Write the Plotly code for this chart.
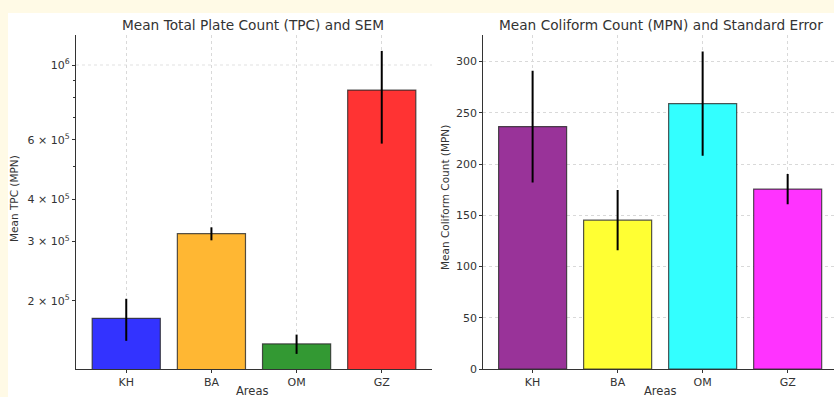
import plotly.graph_objects as go

areas = ["KH", "BA", "OM", "GZ"]
tpc_mean = [177700, 316500, 149200, 843000]
tpc_sem = [25300, 14000, 9800, 258000]
coli_mean = [236.6, 145.3, 259.0, 175.6]
coli_se = [54.6, 29.3, 50.9, 14.8]

tpc_colors = ["#3333FF", "#FFB733", "#339933", "#FF3333"]
coli_colors = ["#993399", "#FFFF33", "#33FFFF", "#FF33FF"]

tpc_tickvals = [2e5, 3e5, 4e5, 6e5, 1e6]
tpc_ticktext = ["2 × 10<sup>5</sup>", "3 × 10<sup>5</sup>", "4 × 10<sup>5</sup>",
                "6 × 10<sup>5</sup>", "10<sup>6</sup>"]
tpc_minor = [5e5, 7e5, 8e5, 9e5]

W, H = 834, 397
TXT = "#333333"
GRID = "#d9d9d9"
FONT = "DejaVu Sans"
CREAM = "#FFFAE6"

fig = go.Figure()
fig.add_trace(go.Bar(
    x=areas, y=tpc_mean, xaxis="x", yaxis="y", width=0.8,
    marker=dict(color=tpc_colors, line=dict(color="rgba(40,40,40,0.8)", width=1.2)),
    error_y=dict(type="data", array=tpc_sem, color="black", thickness=2, width=0),
    showlegend=False))
fig.add_trace(go.Bar(
    x=areas, y=coli_mean, xaxis="x2", yaxis="y2", width=0.8,
    marker=dict(color=coli_colors, line=dict(color="rgba(40,40,40,0.8)", width=1.2)),
    error_y=dict(type="data", array=coli_se, color="black", thickness=2, width=0),
    showlegend=False))

ytop = 1 - 35 / H
ybot = 1 - 369 / H
axis_common = dict(showline=True, linecolor="#333333", linewidth=1.3, ticks="outside",
                   ticklen=3, tickcolor="#333333", tickfont=dict(size=11, color=TXT, family=FONT),
                   zeroline=False, gridcolor=GRID, griddash="dot", gridwidth=0.8,
                   automargin=False)

fig.update_layout(
    width=W, height=H, autosize=False, margin=dict(l=0, r=0, t=0, b=0, pad=0),
    paper_bgcolor=CREAM, plot_bgcolor="white",
    font=dict(family=FONT, color=TXT),
    bargap=0.2,
    xaxis=dict(domain=[76 / W, 432 / W], range=[-0.59, 3.59], anchor="y",
               showgrid=True, **axis_common),
    yaxis=dict(domain=[ybot, ytop], type="log", range=[5.0995, 6.0889], anchor="x",
               tickvals=tpc_tickvals, ticktext=tpc_ticktext, showgrid=False,
               minor=dict(tickvals=tpc_minor, ticks="outside", ticklen=2, tickcolor="#333333",
                          showgrid=False),
               **axis_common),
    xaxis2=dict(domain=[483.3 / W, 1.0], range=[-0.58, 3.545], anchor="y2",
                showgrid=True, **axis_common),
    yaxis2=dict(domain=[ybot, ytop], range=[0, 326], anchor="x2",
                tickvals=[0, 50, 100, 150, 200, 250, 300], showgrid=True, **axis_common),
    shapes=[
        dict(type="rect", xref="paper", yref="paper", x0=8 / W, x1=1, y0=0, y1=1 - 13 / H,
             fillcolor="white", line=dict(width=0), layer="below"),
        dict(type="line", xref="x domain", yref="y", x0=0, x1=1, y0=1e6, y1=1e6,
             line=dict(color=GRID, width=0.8, dash="dot"), layer="below"),
    ],
    annotations=[
        dict(text="Mean Total Plate Count (TPC) and SEM", xref="paper", yref="paper",
             x=253 / W, y=1 - 25 / H, showarrow=False, font=dict(size=13.7, color=TXT),
             xanchor="center", yanchor="middle"),
        dict(text="Mean Coliform Count (MPN) and Standard Error", xref="paper", yref="paper",
             x=660.5 / W, y=1 - 25 / H, showarrow=False, font=dict(size=13.7, color=TXT),
             xanchor="center", yanchor="middle"),
        dict(text="Areas", xref="paper", yref="paper", x=252 / W, y=1 - 391 / H,
             showarrow=False, font=dict(size=11.5, color=TXT), xanchor="center", yanchor="middle"),
        dict(text="Areas", xref="paper", yref="paper", x=660 / W, y=1 - 391 / H,
             showarrow=False, font=dict(size=11.5, color=TXT), xanchor="center", yanchor="middle"),
        dict(text="Mean TPC (MPN)", xref="paper", yref="paper", x=14 / W, y=1 - 199 / H,
             showarrow=False, textangle=-90, font=dict(size=10.5, color=TXT),
             xanchor="center", yanchor="middle"),
        dict(text="Mean Coliform Count (MPN)", xref="paper", yref="paper", x=445 / W, y=1 - 198 / H,
             showarrow=False, textangle=-90, font=dict(size=10.5, color=TXT),
             xanchor="center", yanchor="middle"),
    ],
)

page_js = (
    "document.body.style.margin='0';"
    "document.body.style.overflow='hidden';"
    "document.body.style.background='" + CREAM + "';"
)

fig.write_html(
    "out.html",
    config={"displayModeBar": False, "responsive": False},
    post_script=page_js,
)
